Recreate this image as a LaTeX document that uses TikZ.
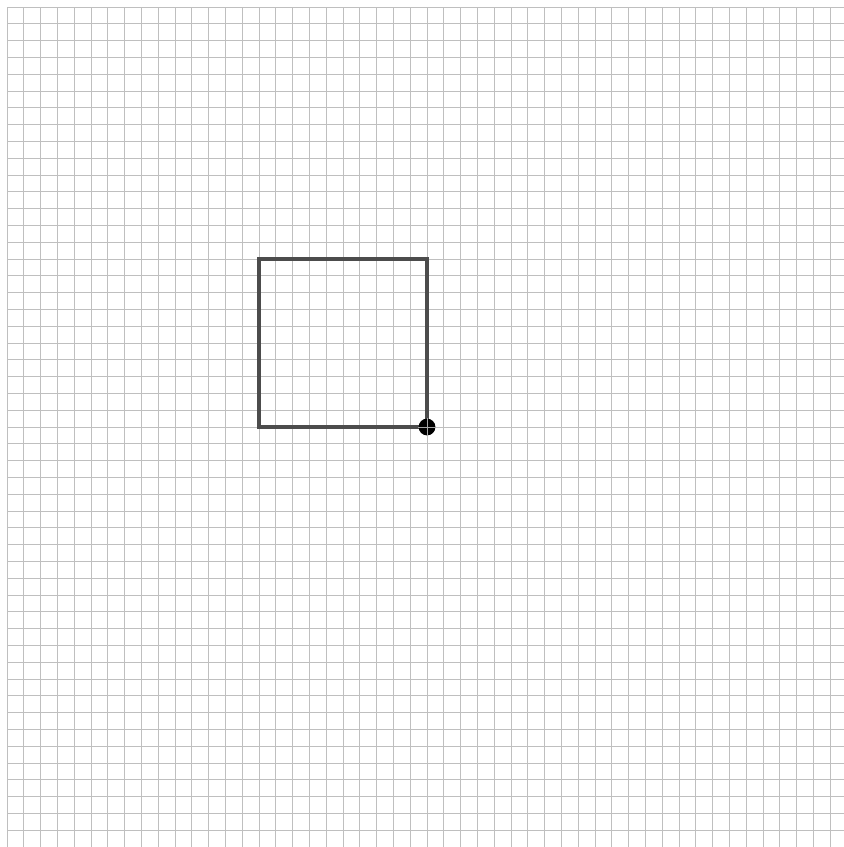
\documentclass[tikz,border=0pt]{standalone}
\usepackage{tikz}
\usetikzlibrary{positioning}

\begin{document}
\begin{tikzpicture}[x=5mm, y=-5mm,
  gridline/.style={draw=black!25, line width=0.8pt},
  trail/.style={draw=black!70, line width=2.6pt, line join=miter},
  turtle/.style={circle, fill=black, minimum size=5mm, inner sep=0pt}]

% page
\useasboundingbox (-0.417,-0.417) rectangle (49.82,50);
\clip (-0.417,-0.417) rectangle (49.82,50);

% grid
\draw[gridline, step=5mm] (0,0) grid (50,50);

% corners of the square
\coordinate (c1) at (15,15);
\coordinate (c2) at (25,15);
\coordinate (c3) at (25,25);
\coordinate (c4) at (15,25);

% square path
\draw[trail] (c3) -- (c4) -- (c1) -- (c2) -- (c3);

% turtle
\node[turtle] (pos) at (c3) {};
\draw[black!35, line width=0.6pt] (pos.north) -- (pos.south);
\draw[black!35, line width=0.6pt] (pos.west) -- (pos.east);

\end{tikzpicture}
\end{document}
